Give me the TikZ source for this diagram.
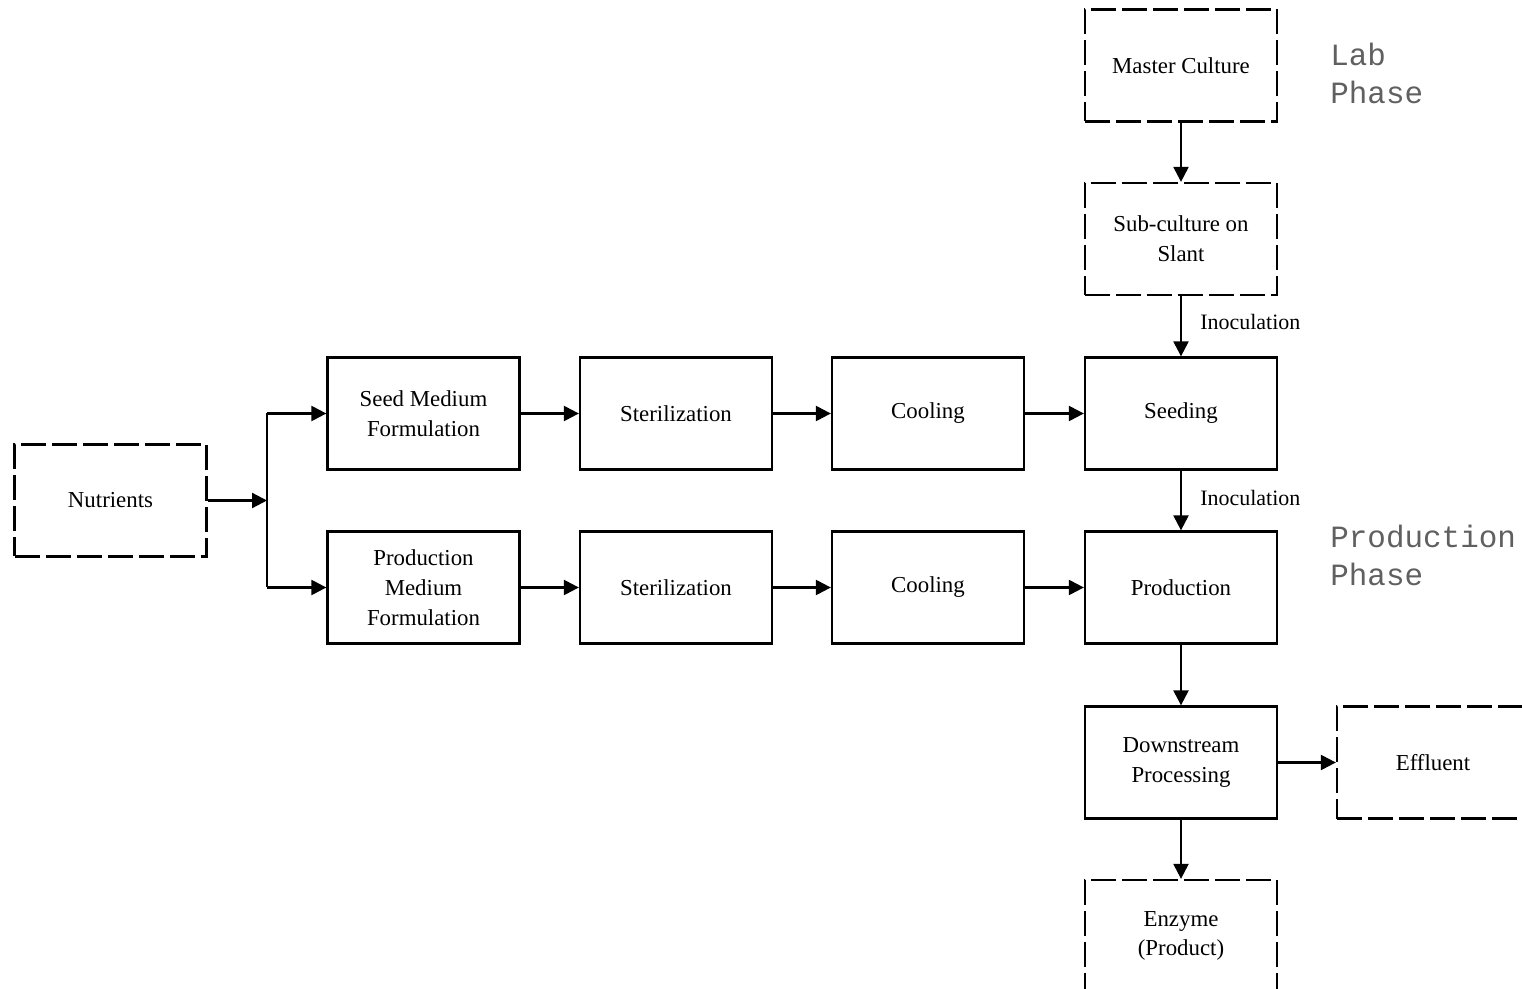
\documentclass[tikz,border=0pt]{standalone}
\usepackage{fontspec}
\setmainfont{Liberation Serif}
\newfontfamily\phasefont{Liberation Mono}
\usetikzlibrary{arrows.meta}
\definecolor{phasegray}{RGB}{96,96,96}
\tikzset{
  box/.style={draw, line width=1.3pt, minimum width=3.84cm, minimum height=2.24cm,
    align=center, font=\fontsize{13}{17}\selectfont, inner sep=2pt},
  dbox/.style={box, dash pattern=on 0.5cm off 0.12cm},
  flow/.style={line width=1.3pt, -{Triangle[length=0.3cm, width=0.3cm]}},
  plain/.style={line width=1.3pt},
  lbl/.style={anchor=west, font=\fontsize{12.5}{14}\selectfont, inner sep=0pt},
  phase/.style={anchor=north west, align=left, text=phasegray,
    font=\phasefont\fontsize{17.6}{21.3}\selectfont, inner sep=0pt}
}
\begin{document}
\begin{tikzpicture}
\useasboundingbox (0,0) rectangle (30.44,-19.78);

% process boxes
\node[dbox] (master) at (23.62,-1.31) {Master Culture};
\node[dbox] (sub) at (23.62,-4.78) {Sub-culture on\\Slant};
\node[box] (seeding) at (23.62,-8.27) {Seeding};
\node[box] (prod) at (23.62,-11.75) {Production};
\node[box] (down) at (23.62,-15.25) {Downstream\\Processing};
\node[dbox] (enzyme) at (23.62,-18.72) {Enzyme\\(Product)};
\node[dbox] (effluent) at (28.66,-15.25) {Effluent};

\node[dbox] (nutr) at (2.21,-10.01) {Nutrients};
\node[box] (seedmed) at (8.47,-8.27) {Seed Medium\\Formulation};
\node[box] (prodmed) at (8.47,-11.75) {Production\\Medium\\Formulation};
\node[box] (ster1) at (13.52,-8.27) {Sterilization};
\node[box] (ster2) at (13.52,-11.75) {Sterilization};
\node[box] (cool1) at (18.56,-8.27) {Cooling};
\node[box] (cool2) at (18.56,-11.75) {Cooling};

% phase labels
\node[phase] (labph) at (26.6,-0.86) {Lab\\Phase};
\node[phase] (prodph) at (26.6,-10.5) {Production\\Phase};

% nutrient split
\coordinate (split) at (5.34,-10.01);
\coordinate (splitT) at (5.34,-8.27);
\coordinate (splitB) at (5.34,-11.75);
\draw[flow] (nutr.east) -- (split);
\draw[plain] (splitT) -- (splitB);
\draw[flow] (splitT) -- (seedmed.west);
\draw[flow] (splitB) -- (prodmed.west);

% medium preparation lines
\draw[flow] (seedmed) -- (ster1);
\draw[flow] (ster1) -- (cool1);
\draw[flow] (cool1) -- (seeding);
\draw[flow] (prodmed) -- (ster2);
\draw[flow] (ster2) -- (cool2);
\draw[flow] (cool2) -- (prod);

% culture and product line
\draw[flow] (master) -- (sub);
\draw[flow] (sub) -- (seeding);
\draw[flow] (seeding) -- (prod);
\draw[flow] (prod) -- (down);
\draw[flow] (down) -- (enzyme);
\draw[flow] (down) -- (effluent);

\node[lbl] (inoc1) at (24.0,-6.44) {Inoculation};
\node[lbl] (inoc2) at (24.0,-9.96) {Inoculation};
\end{tikzpicture}
\end{document}
